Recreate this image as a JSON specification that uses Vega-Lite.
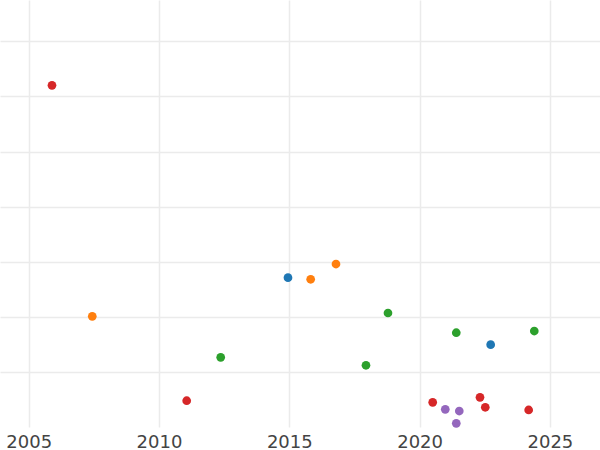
{
  "$schema": "https://vega.github.io/schema/vega-lite/v6.json",
  "width": 600,
  "height": 427,
  "autosize": {"type": "none"},
  "padding": {"left": 0, "top": 0, "right": 0, "bottom": 23},
  "background": "white",
  "config": {"view": {"stroke": null}},
  "data": {
    "values": [
      {"year": 2005.894, "value": 6.201, "group": "D"},
      {"year": 2007.44, "value": 2.009, "group": "B"},
      {"year": 2012.368, "value": 1.265, "group": "C"},
      {"year": 2011.063, "value": 0.477, "group": "D"},
      {"year": 2014.95, "value": 2.71, "group": "A"},
      {"year": 2015.821, "value": 2.681, "group": "B"},
      {"year": 2016.792, "value": 2.958, "group": "B"},
      {"year": 2018.787, "value": 2.069, "group": "C"},
      {"year": 2017.943, "value": 1.12, "group": "C"},
      {"year": 2021.408, "value": 1.711, "group": "C"},
      {"year": 2022.728, "value": 1.494, "group": "A"},
      {"year": 2024.401, "value": 1.742, "group": "C"},
      {"year": 2020.503, "value": 0.448, "group": "D"},
      {"year": 2020.986, "value": 0.321, "group": "E"},
      {"year": 2021.523, "value": 0.29, "group": "E"},
      {"year": 2021.408, "value": 0.067, "group": "E"},
      {"year": 2022.318, "value": 0.539, "group": "D"},
      {"year": 2022.521, "value": 0.358, "group": "D"},
      {"year": 2024.186, "value": 0.309, "group": "D"}
    ]
  },
  "mark": {"type": "circle", "size": 76, "opacity": 1, "clip": false},
  "encoding": {
    "x": {
      "field": "year",
      "type": "quantitative",
      "scale": {"domain": [2003.899, 2026.923], "nice": false, "zero": false},
      "axis": {
        "title": null,
        "values": [2005, 2010, 2015, 2020, 2025],
        "format": "d",
        "domain": false,
        "ticks": false,
        "labelPadding": 6,
        "labelFont": "DejaVu Sans",
        "labelFontSize": 18,
        "labelColor": "#444444",
        "gridColor": "#ebebeb",
        "gridWidth": 1.5,
        "labelFlush": false
      }
    },
    "y": {
      "field": "value",
      "type": "quantitative",
      "scale": {"domain": [0, 7.75], "nice": false, "zero": false},
      "axis": {
        "title": null,
        "values": [1, 2, 3, 4, 5, 6, 7],
        "labels": false,
        "domain": false,
        "ticks": false,
        "gridColor": "#ebebeb",
        "gridWidth": 1.5
      }
    },
    "color": {
      "field": "group",
      "type": "nominal",
      "legend": null,
      "scale": {
        "domain": ["A", "B", "C", "D", "E"],
        "range": ["#1f77b4", "#ff7f0e", "#2ca02c", "#d62728", "#9467bd"]
      }
    }
  }
}
